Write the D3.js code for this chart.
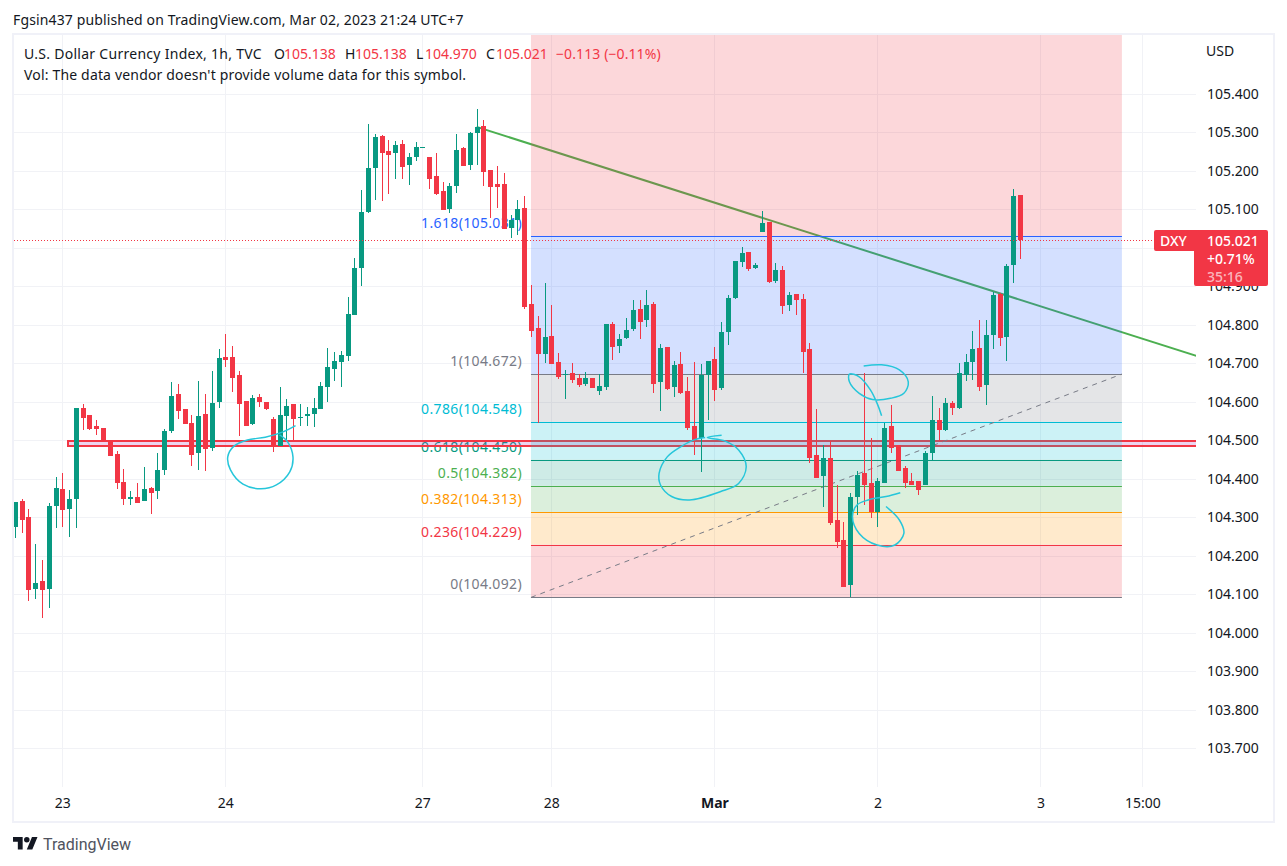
<!DOCTYPE html>
<html>
<head>
<meta charset="utf-8">
<script src="https://cdn.jsdelivr.net/npm/d3@7"></script>
<style>
    body { margin: 0; background: #fff; }
    svg { display: block; font-family: "Noto Sans", sans-serif; }
    text { fill: #131722; }
</style>
</head>
<body>
<div class="container"></div>
<script>
// hourly candles, bar number is just the position on the time axis
let opens = [
    104.276,104.342,104.301,104.115,104.134,104.115,104.329,104.373,104.322,104.348,
    104.584,104.566,104.537,104.532,104.496,104.464,104.392,104.348,104.353,104.342,
    104.376,104.368,104.423,104.524,104.620,104.581,104.545,104.467,104.568,104.480,
    104.600,104.716,104.716,104.670,104.602,104.542,104.612,104.600,104.555,104.485,
    104.563,104.594,104.558,104.563,104.568,104.581,104.638,104.685,104.703,104.719,
    104.825,104.948,105.093,105.207,105.291,105.252,105.246,105.270,105.215,105.236,
    105.259,105.236,105.187,105.148,105.101,105.161,105.259,105.215,105.298,105.316,
    105.202,105.166,105.166,105.051,105.072,105.103,104.854,104.792,104.724,104.771,
    104.703,104.671,104.675,104.662,104.646,104.662,104.628,104.638,104.802,104.745,
    104.766,104.789,104.841,104.813,104.854,104.651,104.742,104.638,104.698,104.628,
    104.537,104.506,104.670,104.711,104.636,104.781,104.870,104.963,104.989,104.947,
    105.041,105.067,104.914,104.942,104.851,104.880,104.867,104.737,104.463,104.406,
    104.453,104.292,104.242,104.123,104.354,104.414,104.390,104.315,104.390,104.536,
    104.487,104.429,104.393,104.393,104.383,104.466,104.552,104.528,104.598,104.584,
    104.670,104.703,104.740,104.644,104.774,104.880,104.768,104.955,105.138
]
let highs = [
    104.340,104.348,104.322,104.231,104.189,104.337,104.405,104.415,104.371,104.584,
    104.594,104.566,104.553,104.532,104.501,104.472,104.426,104.368,104.389,104.431,
    104.379,104.467,104.529,104.652,104.646,104.581,104.566,104.654,104.620,104.680,
    104.737,104.776,104.745,104.680,104.602,104.618,104.620,104.600,104.561,104.638,
    104.607,104.594,104.594,104.586,104.610,104.651,104.740,104.729,104.732,104.872,
    104.974,105.150,105.322,105.296,105.293,105.280,105.278,105.280,105.246,105.275,
    105.261,105.236,105.246,105.171,105.168,105.296,105.262,105.301,105.361,105.332,
    105.202,105.213,105.194,105.085,105.124,105.135,104.903,104.823,104.909,104.852,
    104.727,104.683,104.701,104.672,104.677,104.662,104.672,104.802,104.807,104.776,
    104.818,104.865,104.865,104.890,104.859,104.750,104.742,104.706,104.729,104.664,
    104.703,104.698,104.706,104.742,104.807,104.877,104.966,105.002,104.989,104.960,
    105.096,105.067,104.960,104.953,104.885,104.880,104.880,104.753,104.580,104.489,
    104.497,104.385,104.289,104.364,104.419,104.674,104.507,104.403,104.546,104.591,
    104.487,104.432,104.416,104.393,104.471,104.616,104.583,104.609,104.603,104.701,
    104.724,104.784,104.813,104.813,104.885,104.883,104.958,105.153,105.138
]
let lows = [
    104.247,104.258,104.083,104.089,104.039,104.065,104.273,104.276,104.250,104.273,
    104.527,104.527,104.514,104.496,104.459,104.373,104.332,104.332,104.337,104.342,
    104.309,104.348,104.410,104.519,104.555,104.542,104.433,104.423,104.420,104.472,
    104.584,104.690,104.626,104.511,104.537,104.540,104.586,104.579,104.470,104.485,
    104.501,104.501,104.537,104.537,104.535,104.581,104.599,104.654,104.638,104.706,
    104.825,104.901,105.090,105.124,105.122,105.140,105.179,105.179,105.163,105.226,
    105.259,105.153,105.137,105.098,105.090,105.142,105.213,105.202,105.215,105.161,
    105.077,105.103,105.049,105.025,105.033,104.841,104.768,104.545,104.701,104.698,
    104.659,104.607,104.649,104.638,104.641,104.636,104.618,104.631,104.709,104.727,
    104.763,104.784,104.763,104.794,104.623,104.576,104.631,104.612,104.620,104.527,
    104.462,104.418,104.553,104.602,104.631,104.748,104.867,104.950,104.940,104.945,
    105.041,104.909,104.909,104.828,104.836,104.825,104.675,104.442,104.403,104.326,
    104.281,104.219,104.120,104.094,104.305,104.333,104.297,104.274,104.390,104.466,
    104.419,104.375,104.385,104.359,104.383,104.445,104.497,104.523,104.565,104.581,
    104.654,104.657,104.628,104.592,104.737,104.745,104.706,104.909,104.970
]
let closes = [
    104.340,104.294,104.112,104.129,104.112,104.329,104.376,104.319,104.348,104.584,
    104.558,104.529,104.529,104.496,104.459,104.389,104.348,104.353,104.337,104.373,
    104.363,104.423,104.524,104.615,104.576,104.542,104.462,104.563,104.477,104.597,
    104.714,104.709,104.662,104.594,104.537,104.610,104.600,104.581,104.483,104.566,
    104.589,104.555,104.560,104.568,104.584,104.641,104.690,104.706,104.722,104.828,
    104.948,105.093,105.207,105.288,105.246,105.241,105.267,105.210,105.236,105.262,
    105.261,105.179,105.140,105.098,105.161,105.254,105.213,105.298,105.314,105.197,
    105.158,105.158,105.049,105.072,105.101,104.846,104.784,104.724,104.768,104.698,
    104.664,104.672,104.657,104.644,104.662,104.636,104.641,104.802,104.742,104.763,
    104.787,104.839,104.807,104.852,104.646,104.740,104.633,104.696,104.623,104.532,
    104.501,104.670,104.706,104.631,104.781,104.870,104.966,104.987,104.945,104.955,
    105.064,104.911,104.942,104.849,104.877,104.864,104.729,104.455,104.403,104.453,
    104.284,104.237,104.120,104.354,104.411,104.385,104.313,104.393,104.531,104.481,
    104.419,104.388,104.385,104.372,104.466,104.552,104.526,104.598,104.583,104.675,
    104.703,104.737,104.638,104.774,104.877,104.766,104.953,105.135,105.021
]

let priceTicks = [105.4,105.3,105.2,105.1,105.0,104.9,104.8,104.7,104.6,104.5,104.4,104.3,104.2,104.1,104.0,103.9,103.8,103.7]
let timeTicks = [7,31,60,79,103,127,151,166]
let timeLabels = ['23','24','27','28','Mar','2','3','15:00']

// fib retracement
let fibStart = 76
let fibEnd = 163
let fibRatios = ['2.618','1.618','1','0.786','0.618','0.5','0.382','0.236','0']
let fibPrices = [105.610,105.031,104.672,104.548,104.450,104.382,104.313,104.229,104.092]
let fibColors = ['#f23645','#2962ff','#787b86','#00bcd4','#089981','#4caf50','#ff9800','#f23645','#787b86']

let trendBars = [68,174]
let trendPrices = [105.314,104.719]
let bandPrices = [104.497,104.486]
let bandStart = 7.8
let lastPrice = 105.021

// the hand drawn loops, as [bar, price]
let loopBottomLeft = [[41.34,104.538],[39.5,104.522],[36.88,104.508],[34.25,104.501],[32.27,104.485],[31.36,104.457],[31.76,104.423],[33.6,104.386],[36.22,104.374],[38.52,104.384],[40.49,104.418],[40.96,104.457],[40.17,104.496],[38.99,104.514]]
let loopMiddle = [[104.07,104.513],[101.96,104.507],[104.6,104.498],[106.57,104.475],[107.69,104.431],[106.57,104.388],[103.94,104.367],[99.34,104.345],[96.71,104.354],[95.07,104.384],[94.86,104.414],[96.06,104.457],[98.03,104.483],[100,104.501],[101.64,104.507]]
let loopUpper = [[124.98,104.693],[127.62,104.696],[130.24,104.683],[131.55,104.652],[130.9,104.622],[128.93,104.609],[126.29,104.606],[124.33,104.622],[122.88,104.652],[122.88,104.672],[124.33,104.665],[125.97,104.631],[126.96,104.596],[127.62,104.564]]
let loopLower = [[130.37,104.364],[128.27,104.354],[125.65,104.345],[124,104.332],[123.33,104.302],[124.32,104.258],[126.96,104.228],[129.58,104.228],[130.9,104.258],[130.24,104.293],[128.27,104.328]]

let width = 1287
let height = 866
let plot = { left: 14, top: 35, right: 1196, bottom: 787 }

let xScale = d3.scaleLinear().domain([7,151]).range([62.3,1040.4])
let yScale = d3.scaleLinear().domain([105.3,104.1]).range([132.3,594.3])

let red = '#f23645'
let green = '#089981'
let gridColor = '#f1f2f6'
let font = '"Noto Sans", sans-serif'

let svg = d3.select('.container')
    .append('svg')
    .attr('width', width)
    .attr('height', height)

svg.append('defs').append('clipPath')
    .attr('id', 'pane')
    .append('rect')
    .attr('x', plot.left)
    .attr('y', plot.top)
    .attr('width', plot.right - plot.left)
    .attr('height', plot.bottom - plot.top)

svg.append('text')
    .attr('x', 13)
    .attr('y', 25)
    .style('font-size', '14px')
    .style('letter-spacing', '0.13px')
    .text('Fgsin437 published on TradingView.com, Mar 02, 2023 21:24 UTC+7')

// frame of the chart
svg.append('rect')
    .attr('x', 13)
    .attr('y', 34)
    .attr('width', 1261)
    .attr('height', 788)
    .attr('fill', 'none')
    .attr('stroke', '#f0f1f8')
    .attr('stroke-width', 2)

let pane = svg.append('g').attr('clip-path', 'url(#pane)')

pane.selectAll('.hgrid')
    .data(priceTicks)
    .enter()
    .append('line')
    .attr('class', 'hgrid')
    .attr('x1', plot.left)
    .attr('x2', plot.right)
    .attr('y1', d => Math.round(yScale(d)) + 0.5)
    .attr('y2', d => Math.round(yScale(d)) + 0.5)
    .attr('stroke', gridColor)

pane.selectAll('.vgrid')
    .data(timeTicks)
    .enter()
    .append('line')
    .attr('class', 'vgrid')
    .attr('x1', d => Math.round(xScale(d)) + 0.5)
    .attr('x2', d => Math.round(xScale(d)) + 0.5)
    .attr('y1', plot.top)
    .attr('y2', plot.bottom)
    .attr('stroke', gridColor)

// green trend line sits under the fib fill, that is why it looks olive there
pane.append('line')
    .attr('x1', xScale(trendBars[0]))
    .attr('y1', yScale(trendPrices[0]))
    .attr('x2', xScale(trendBars[1]))
    .attr('y2', yScale(trendPrices[1]))
    .attr('stroke', '#4caf50')
    .attr('stroke-width', 2)

// fib labels
pane.selectAll('.fib-label')
    .data(fibRatios.slice(1))
    .enter()
    .append('text')
    .attr('class', 'fib-label')
    .attr('x', 522)
    .attr('y', (d, i) => yScale(fibPrices[i + 1]) - 8)
    .attr('text-anchor', 'end')
    .style('font-size', '14px')
    .style('letter-spacing', '0.35px')
    .style('fill', (d, i) => fibColors[i + 1])
    .text((d, i) => `${d}(${fibPrices[i + 1].toFixed(3)})`)

// red band over the labels
pane.append('rect')
    .attr('x', Math.round(xScale(bandStart)))
    .attr('y', Math.round(yScale(bandPrices[0])))
    .attr('width', plot.right - xScale(bandStart) + 4)
    .attr('height', Math.round(yScale(bandPrices[1])) - Math.round(yScale(bandPrices[0])))
    .attr('fill', '#9c27b0')
    .attr('fill-opacity', 0.2)
    .attr('stroke', red)
    .attr('stroke-width', 2)

// fib zones, each one takes the colour of its upper level
pane.selectAll('.fib-zone')
    .data(fibPrices.slice(0, -1))
    .enter()
    .append('rect')
    .attr('class', 'fib-zone')
    .attr('x', xScale(fibStart))
    .attr('width', xScale(fibEnd) - xScale(fibStart))
    .attr('y', d => yScale(d))
    .attr('height', (d, i) => yScale(fibPrices[i + 1]) - yScale(d))
    .attr('fill', (d, i) => fibColors[i])
    .attr('fill-opacity', 0.2)

pane.selectAll('.fib-line')
    .data(fibPrices.slice(1))
    .enter()
    .append('line')
    .attr('class', 'fib-line')
    .attr('x1', xScale(fibStart))
    .attr('x2', xScale(fibEnd))
    .attr('y1', d => Math.round(yScale(d)) + 0.5)
    .attr('y2', d => Math.round(yScale(d)) + 0.5)
    .attr('stroke', (d, i) => fibColors[i + 1])

// diagonal of the fib
pane.append('line')
    .attr('x1', xScale(fibStart))
    .attr('y1', yScale(fibPrices[8]))
    .attr('x2', xScale(fibEnd))
    .attr('y2', yScale(fibPrices[2]))
    .attr('stroke', '#787b86')
    .attr('stroke-dasharray', '5 5')

// candles
let isUp = i => closes[i] >= opens[i]

pane.selectAll('.wick')
    .data(opens)
    .enter()
    .append('rect')
    .attr('class', 'wick')
    .attr('x', (d, i) => Math.round(xScale(i)))
    .attr('width', 1)
    .attr('y', (d, i) => Math.round(yScale(highs[i])))
    .attr('height', (d, i) => Math.max(1, Math.round(yScale(lows[i])) - Math.round(yScale(highs[i]))))
    .attr('fill', (d, i) => isUp(i) ? green : red)

pane.selectAll('.body')
    .data(opens)
    .enter()
    .append('rect')
    .attr('class', 'body')
    .attr('x', (d, i) => Math.round(xScale(i)) - 2)
    .attr('width', 5)
    .attr('y', (d, i) => Math.round(yScale(Math.max(d, closes[i]))))
    .attr('height', (d, i) => Math.max(1, Math.round(yScale(Math.min(d, closes[i]))) - Math.round(yScale(Math.max(d, closes[i])))))
    .attr('fill', (d, i) => isUp(i) ? green : red)

// freehand loops
let loopLine = d3.line()
    .x(d => xScale(d[0]))
    .y(d => yScale(d[1]))
    .curve(d3.curveCatmullRom)

pane.selectAll('.loop')
    .data([loopBottomLeft, loopMiddle, loopUpper, loopLower])
    .enter()
    .append('path')
    .attr('class', 'loop')
    .attr('d', loopLine)
    .attr('fill', 'none')
    .attr('stroke', '#26c6da')
    .attr('stroke-width', 1.5)

// last price line
pane.append('line')
    .attr('x1', plot.left)
    .attr('x2', 1154)
    .attr('y1', Math.round(yScale(lastPrice)) + 0.5)
    .attr('y2', Math.round(yScale(lastPrice)) + 0.5)
    .attr('stroke', red)
    .attr('stroke-dasharray', '1 2')

// axes
let yAxis = d3.axisRight(yScale)
    .tickValues(priceTicks)
    .tickFormat(d3.format('.3f'))
    .tickSize(0)
    .tickPadding(0)

svg.append('g')
    .attr('class', 'y axis')
    .attr('transform', 'translate(1207,0)')
    .call(yAxis)
    .call(g => g.select('.domain').remove())
    .selectAll('text')
    .style('font-size', '14px')
    .style('font-family', font)

let xAxis = d3.axisBottom(xScale)
    .tickValues(timeTicks)
    .tickFormat((d, i) => timeLabels[i])
    .tickSize(0)
    .tickPadding(0)

svg.append('g')
    .attr('class', 'x axis')
    .attr('transform', 'translate(0,798)')
    .call(xAxis)
    .call(g => g.select('.domain').remove())
    .selectAll('text')
    .style('font-size', '14px')
    .style('font-family', font)
    .style('font-weight', d => d === 103 ? 700 : 400)

svg.append('text')
    .attr('x', 1206)
    .attr('y', 56)
    .style('font-size', '14px')
    .text('USD')

// legend
let legendParts = [
    { x: 24, text: 'U.S. Dollar Currency Index, 1h, TVC', up: false, spacing: 0.28 },
    { x: 274, text: 'O', up: false, spacing: 0 },
    { x: 284, text: '105.138', up: true, spacing: 0 },
    { x: 345, text: 'H', up: false, spacing: 0 },
    { x: 355, text: '105.138', up: true, spacing: 0 },
    { x: 416, text: 'L', up: false, spacing: 0 },
    { x: 425, text: '104.970', up: true, spacing: 0 },
    { x: 486, text: 'C', up: false, spacing: 0 },
    { x: 496, text: '105.021', up: true, spacing: 0 },
    { x: 556, text: '\u22120.113 (\u22120.11%)', up: true, spacing: 0.1 }
]

svg.selectAll('.legend')
    .data(legendParts)
    .enter()
    .append('text')
    .attr('class', 'legend')
    .attr('x', d => d.x)
    .attr('y', 59)
    .style('font-size', '14px')
    .style('letter-spacing', d => d.spacing + 'px')
    .style('fill', d => d.up ? red : '#131722')
    .text(d => d.text)

svg.append('text')
    .attr('x', 24)
    .attr('y', 80)
    .style('font-size', '14px')
    .style('letter-spacing', '0.17px')
    .text("Vol: The data vendor doesn't provide volume data for this symbol.")

// price tag on the axis
svg.append('path')
    .attr('d', 'M1156 230H1266a2 2 0 0 1 2 2V284a2 2 0 0 1 -2 2H1196a2 2 0 0 1 -2 -2V251H1156a2 2 0 0 1 -2 -2V232a2 2 0 0 1 2 -2Z')
    .attr('fill', red)

let tagLines = [
    { x: 1160, y: 246, text: 'DXY', opacity: 1 },
    { x: 1207, y: 246, text: '105.021', opacity: 1 },
    { x: 1207, y: 264, text: '+0.71%', opacity: 1 },
    { x: 1207, y: 282, text: '35:16', opacity: 0.65 }
]

svg.selectAll('.tag')
    .data(tagLines)
    .enter()
    .append('text')
    .attr('class', 'tag')
    .attr('x', d => d.x)
    .attr('y', d => d.y)
    .style('font-size', '14px')
    .style('font-weight', 500)
    .style('fill', '#fff')
    .style('fill-opacity', d => d.opacity)
    .text(d => d.text)

// footer logo
let logo = svg.append('g')
    .attr('transform', 'translate(13,834.2) scale(0.69)')
    .attr('fill', '#131722')

logo.append('path').attr('d', 'M14 22H7V11H0V4h14v18zM28 22h-8l7.5-18h8L28 22z')
logo.append('circle').attr('cx', 20).attr('cy', 8).attr('r', 4)

svg.append('text')
    .attr('x', 43)
    .attr('y', 850)
    .style('font-size', '16px')
    .style('font-family', 'Roboto, sans-serif')
    .style('fill', '#50535e')
    .text('TradingView')
</script>
</body>
</html>
